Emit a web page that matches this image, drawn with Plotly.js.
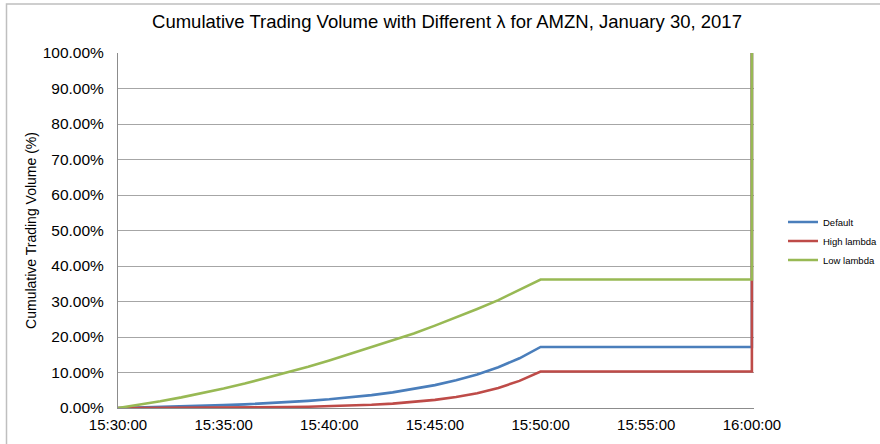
<!DOCTYPE html>
<html>
<head>
<meta charset="utf-8">
<script src="https://cdn.plot.ly/plotly-3.0.1.min.js"></script>
<style>
html,body{margin:0;padding:0;background:#fff;}
#chart{width:880px;height:444px;}
</style>
</head>
<body>
<div id="chart"></div>
<script>
// Time stamps (one per minute 15:30-15:50, flat to 16:00, then final jump at 16:00)
const times = [
  "15:30:00","15:31:00","15:32:00","15:33:00","15:34:00","15:35:00","15:36:00",
  "15:37:00","15:38:00","15:39:00","15:40:00","15:41:00","15:42:00","15:43:00",
  "15:44:00","15:45:00","15:46:00","15:47:00","15:48:00","15:49:00","15:50:00",
  "15:55:00","16:00:00","16:00:00"
];
// Cumulative volume (%)
const defaultVol = [0, 0.12, 0.26, 0.42, 0.60, 0.80, 1.03, 1.30, 1.62, 2.00, 2.45,
  2.98, 3.62, 4.40, 5.35, 6.45, 7.80, 9.45, 11.5, 14.0, 17.2, 17.2, 17.2, 100];
const highLambda = [0, 0.01, 0.02, 0.04, 0.06, 0.09, 0.13, 0.18, 0.26, 0.36, 0.49,
  0.67, 0.91, 1.24, 1.68, 2.28, 3.08, 4.17, 5.64, 7.63, 10.3, 10.3, 10.3, 100];
const lowLambda = [0, 0.92, 1.9, 3.0, 4.2, 5.5, 6.9, 8.4, 10.0, 11.6, 13.4,
  15.3, 17.2, 19.1, 21.0, 23.2, 25.5, 27.9, 30.4, 33.2, 36.2, 36.2, 36.2, 100];
const seriesNames = ["Default", "High lambda", "Low lambda"];
const yTickVals = [0,10,20,30,40,50,60,70,80,90,100];
const yTickText = ["0.00%","10.00%","20.00%","30.00%","40.00%","50.00%","60.00%","70.00%","80.00%","90.00%","100.00%"];
const xTickVals = ["15:30:00","15:35:00","15:40:00","15:45:00","15:50:00","15:55:00","16:00:00"];

const day = "2017-01-30 ";
const xs = times.map(t => day + t);
const colors = ["#4a7ebb", "#be4b48", "#98b954"];
const ys = [defaultVol, highLambda, lowLambda];

const traces = ys.map((y, i) => ({
  type: "scatter",
  mode: "lines",
  name: seriesNames[i],
  x: xs,
  y: y,
  line: {color: colors[i], width: 2.6},
  hoverinfo: "skip"
}));

// plot box; right edge padded 2px so the final vertical jump is not clipped
const L = 118, R = 754, T = 53, B = 408;
const W = R - L, H = B - T;

const layout = {
  width: 880, height: 444,
  margin: {l: L, r: 880 - R, t: T, b: 444 - B, autoexpand: false},
  paper_bgcolor: "#ffffff",
  plot_bgcolor: "#ffffff",
  font: {family: "Liberation Sans, Arial, sans-serif", color: "#000"},
  title: {
    text: "Cumulative Trading Volume with Different λ for AMZN, January 30, 2017",
    font: {size: 18.5, family: "Liberation Sans, Arial, sans-serif", color: "#000"},
    x: 447 / 880, xanchor: "center", xref: "container",
    y: 1 - 22 / 444, yanchor: "middle", yref: "container"
  },
  xaxis: {
    type: "date",
    range: [day + "15:30:00", day + "16:00:06"],
    tickvals: xTickVals.map(t => day + t),
    ticktext: xTickVals,
    tickfont: {size: 15},
    showgrid: false,
    zeroline: false,
    showline: true,
    linecolor: "#8c8c8c",
    linewidth: 1,
    ticks: "",
    ticklabelstandoff: 3,
    fixedrange: true
  },
  yaxis: {
    range: [0, 100],
    tickvals: yTickVals,
    ticktext: yTickText,
    tickfont: {size: 15.5},
    showgrid: true,
    gridcolor: "#a6a6a6",
    gridwidth: 1,
    zeroline: false,
    showline: true,
    linecolor: "#8c8c8c",
    linewidth: 1,
    ticks: "",
    ticklabelstandoff: 10,
    title: {text: "Cumulative Trading Volume (%)", font: {size: 14}, standoff: 2},
    fixedrange: true
  },
  showlegend: true,
  legend: {
    x: (783 - L) / W, xanchor: "left",
    y: (B - 241) / H, yanchor: "middle",
    font: {size: 9.5},
    tracegroupgap: 0,
    itemwidth: 30,
    bgcolor: "rgba(0,0,0,0)"
  },
  shapes: [{
    type: "rect", xref: "paper", yref: "paper", layer: "below",
    x0: (6.5 - L) / W, x1: (890 - L) / W,
    y0: (B - 460) / H, y1: (B - 4) / H,
    line: {color: "#bfbfbf", width: 1.5}, fillcolor: "rgba(0,0,0,0)"
  }]
};

Plotly.newPlot("chart", traces, layout, {displayModeBar: false, staticPlot: true});
</script>
</body>
</html>
